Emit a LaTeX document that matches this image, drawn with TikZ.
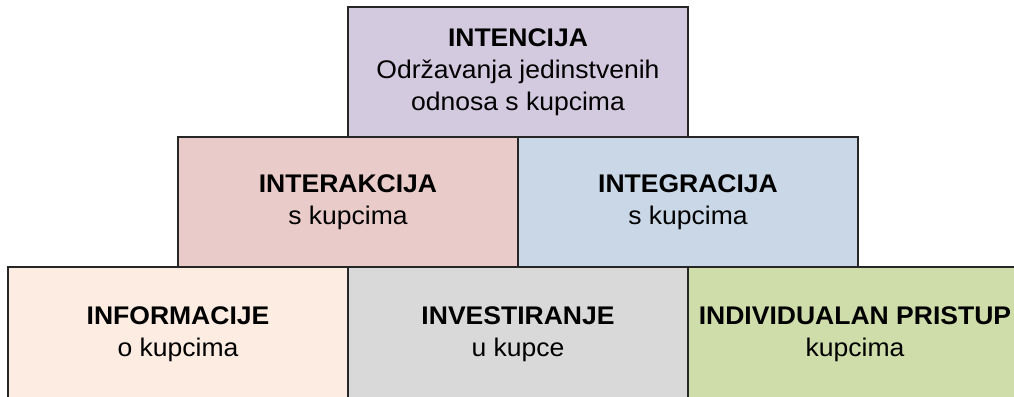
\documentclass[tikz,border=0pt]{standalone}
\usepackage{fontspec}
\setmainfont[FakeStretch=1.04]{Liberation Sans}
\usetikzlibrary{positioning}
\usepackage{xcolor}
\definecolor{pylav}{HTML}{D3CAE0}
\definecolor{pypink}{HTML}{E9CBCA}
\definecolor{pyblue}{HTML}{C9D7E6}
\definecolor{pybeige}{HTML}{FCECE1}
\definecolor{pygrey}{HTML}{D9D9D9}
\definecolor{pygreen}{HTML}{CFDDAB}

\begin{document}
\begin{tikzpicture}[x=1pt, y=-1pt,
    tier/.style={rectangle, draw=black!85, fill=#1,
                 minimum width=340pt, minimum height=130pt, align=center,
                 font=\fontsize{25.5}{32}\selectfont, line width=1.2pt,
                 inner sep=0pt, outer sep=0pt},
    base/.style={tier=#1, minimum height=134pt}
  ]
    \useasboundingbox (0,0) rectangle (1014,396);
    \clip (0,0) rectangle (1014,396);

    % bottom row (runs off the page)
    \node[base=pybeige] (b1) at (178,334) {\textbf{INFORMACIJE}\\o kupcima};
    \node[base=pygrey, right=0pt of b1] (b2) {\textbf{INVESTIRANJE}\\u kupce};
    \node[base=pygreen, minimum width=334pt, right=0pt of b2] (b3) {\textbf{INDIVIDUALAN PRISTUP}\\kupcima};

    % middle row
    \node[tier=pypink, above=0pt of b1.north east] (m1) {\textbf{INTERAKCIJA}\\s kupcima};
    \node[tier=pyblue, right=0pt of m1] (m2) {\textbf{INTEGRACIJA}\\s kupcima};

    % top
    \node[tier=pylav, above=0pt of m1.north east] (t1) {\textbf{INTENCIJA}\\Održavanja jedinstvenih\\odnosa s kupcima};
  \end{tikzpicture}
\end{document}
